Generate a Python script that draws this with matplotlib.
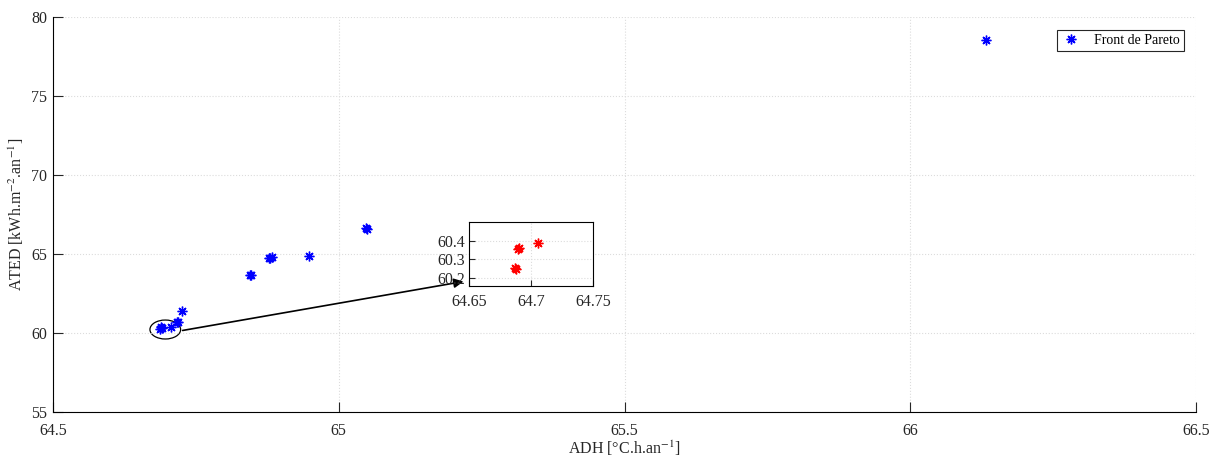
import matplotlib
matplotlib.use("Agg")
import matplotlib.pyplot as plt
from matplotlib.patches import Ellipse

plt.rcParams["font.family"] = ["Liberation Serif", "DejaVu Serif"]
plt.rcParams["mathtext.fontset"] = "stix"
plt.rcParams["font.size"] = 11.5

# Pareto front (main view); repeated entries are overlapping solutions
adh = [66.133, 65.048, 65.050, 64.948, 64.880, 64.884, 64.878, 64.845, 64.846,
       64.726, 64.719, 64.717, 64.706, 64.689, 64.688, 64.690]
ated = [78.54, 66.62, 66.60, 64.87, 64.75, 64.80, 64.72, 63.64, 63.66,
        61.39, 60.72, 60.68, 60.38, 60.36, 60.25, 60.30]

# zoomed detail
adh_zoom = [64.687, 64.688, 64.690, 64.6895, 64.706]
ated_zoom = [60.251, 60.247, 60.359, 60.355, 60.385]

ASTERISK = (8, 2, 0)
INK = "#262626"

fig = plt.figure(figsize=(12.18, 4.66), dpi=100)
ax = fig.add_axes([0.0435, 0.1159, 0.9385, 0.8476])
ax.plot(adh, ated, linestyle="none", marker=ASTERISK, color="#0000ff",
        markersize=7, markeredgewidth=1.0, label="Front de Pareto")
ax.set_xlim(64.5, 66.5)
ax.set_ylim(55, 80)
ax.set_xticks([64.5, 65, 65.5, 66, 66.5])
ax.set_xticklabels(["64.5", "65", "65.5", "66", "66.5"])
ax.set_yticks([55, 60, 65, 70, 75, 80])
ax.tick_params(direction="in", length=7, colors=INK, labelsize=11.5)
ax.tick_params(axis="x", pad=8)
ax.tick_params(axis="y", pad=4)
ax.spines["top"].set_visible(False)
ax.spines["right"].set_visible(False)
ax.grid(True, linestyle=":", color="#dcdcdc", linewidth=0.8)
ax.set_xlabel("ADH [°C.h.an$^{-1}$]", fontsize=11.5, color=INK, labelpad=0)
ax.set_ylabel("ATED [kWh.m$^{-2}$.an$^{-1}$]", fontsize=11.5, color=INK)
leg = ax.legend(loc="upper right", bbox_to_anchor=(0.9895, 0.967), borderaxespad=0,
                fancybox=False, framealpha=1, edgecolor=INK, fontsize=10,
                handletextpad=1.0, borderpad=0.3, handlelength=1.4)
leg.get_frame().set_linewidth(0.8)

ax.add_patch(Ellipse((64.6965, 60.22), 0.0537, 1.2, fill=False,
                     edgecolor="black", linewidth=0.9))
ax.annotate("", xy=(65.223, 63.29), xytext=(64.722, 60.13),
            arrowprops=dict(arrowstyle="-|>", color="black", lw=1.2,
                            mutation_scale=14))

ins = fig.add_axes([0.3851, 0.3863, 0.1018, 0.1373])
ins.plot(adh_zoom, ated_zoom, linestyle="none", marker=ASTERISK, color="#ff0000",
         markersize=7, markeredgewidth=1.0)
ins.set_xlim(64.65, 64.75)
ins.set_ylim(60.155, 60.5)
ins.set_xticks([64.65, 64.7, 64.75])
ins.set_xticklabels(["64.65", "64.7", "64.75"])
ins.set_yticks([60.2, 60.3, 60.4])
ins.tick_params(direction="in", length=4, labelsize=11.5, colors=INK)
ins.tick_params(axis="x", pad=6)
ins.tick_params(axis="y", pad=3)
ins.grid(True, linestyle=":", color="#dcdcdc", linewidth=0.8)

fig.savefig("out.png", dpi=100)
